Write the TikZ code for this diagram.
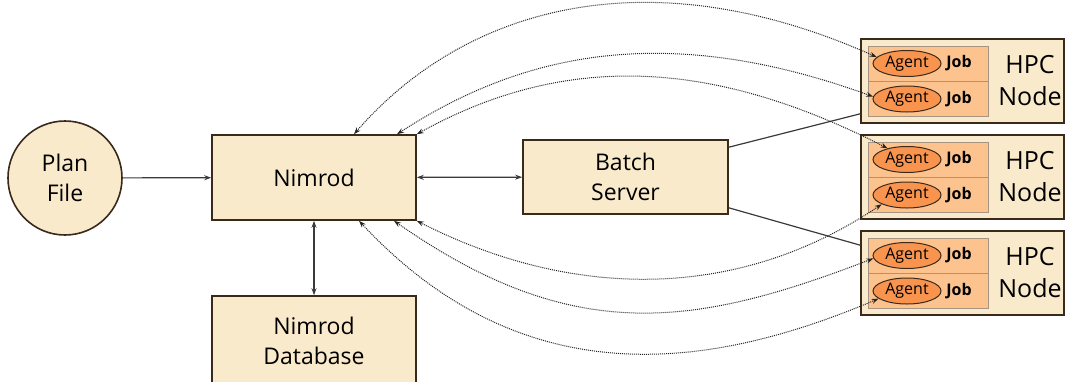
\documentclass[tikz,border=0pt]{standalone}
\usepackage{fontspec}
\setmainfont{Open Sans}
\usetikzlibrary{arrows.meta,shapes.geometric}

\definecolor{boxfill}{HTML}{FAEACC}
\definecolor{boxline}{HTML}{3A2A1C}
\definecolor{jobfill}{HTML}{FCC38F}
\definecolor{jobline}{HTML}{A89482}
\definecolor{agentfill}{HTML}{F8944E}
\definecolor{wire}{HTML}{3A3A3A}

\begin{document}
\begin{tikzpicture}[x=1pt, y=1pt, >={Stealth[length=7pt, width=5pt]},
  box/.style={draw=boxline, line width=1.6pt, fill=boxfill, inner sep=0pt,
    align=center, font=\fontsize{23}{30}\selectfont},
  jobrow/.style={draw=jobline, line width=0.8pt, fill=jobfill, inner sep=0pt,
    minimum width=120pt, minimum height=35pt},
  agentoval/.style={ellipse, draw=boxline, line width=1pt, fill=agentfill,
    inner sep=0pt, minimum width=68pt, minimum height=26pt,
    font=\fontsize{16}{18}\selectfont},
  joblabel/.style={inner sep=0pt, font=\fontsize{16}{18}\selectfont\bfseries},
  hpclabel/.style={inner sep=0pt, align=center, font=\fontsize{25}{32}\selectfont},
  link/.style={draw=wire, line width=1.2pt},
  msg/.style={draw=black!85, line width=1pt, densely dotted, <->}]

% page frame, in pixels of the reference (y downwards)
\useasboundingbox (0,0) rectangle (1066,-381);

% main blocks
\node[box, circle, minimum size=114pt] (plan) at (65,-178) {Plan\\File};
\node[box, minimum width=204pt, minimum height=85pt] (nimrod) at (314,-177.5) {Nimrod};
\node[box, minimum width=205pt, minimum height=74pt] (batch) at (625.5,-177) {Batch\\Server};
\node[box, minimum width=204pt, minimum height=89pt] (db) at (314,-340.5) {Nimrod\\Database};

% three HPC nodes, two agent/job rows each
\foreach \k/\cy in {1/81, 2/177, 3/273} {
  \node[box, minimum width=203pt, minimum height=84pt] (hpc\k) at (962.5,-\cy) {};
  \node[hpclabel] (hpctext\k) at (1030,-\cy) {HPC\\Node};
  \foreach \r/\off in {a/17.5, b/-18} {
    \pgfmathsetmacro{\ry}{\off-\cy}
    \node[jobrow] (row\k\r) at (928,\ry) {};
    \node[agentoval] (agent\k\r) at (907,\ry) {Agent};
    \node[joblabel] (job\k\r) at (959,\ry) {Job};
  }
}

% solid connectors
\draw[link, ->] (plan) -- (nimrod);
\draw[link, <->] (nimrod) -- (batch);
\draw[link, <->] (nimrod) -- (db);
\draw[link] ([yshift=-8pt]batch.north east) -- ([yshift=10pt]hpc1.south west);
\draw[link] ([yshift=7pt]batch.south east) -- ([yshift=-15pt]hpc3.north west);

% agent <-> nimrod messages
\draw[msg] ([xshift=40pt]nimrod.north) to[out=49, in=156, out distance=165pt, in distance=255pt] (agent1a.168);
\draw[msg] ([xshift=83pt]nimrod.north) to[out=33, in=160, out distance=150pt, in distance=220pt] (agent1b.176);
\draw[msg] (nimrod.north east) to[out=29, in=153, out distance=182pt, in distance=182pt] (agent2a.150);
\draw[msg] (nimrod.south east) to[out=-27, in=214, out distance=174pt, in distance=174pt] (agent2b.200);
\draw[msg] ([xshift=80pt]nimrod.south) to[out=-35, in=201, out distance=220pt, in distance=190pt] (agent3a.185);
\draw[msg] ([xshift=45pt]nimrod.south) to[out=-47, in=203, out distance=240pt, in distance=185pt] (agent3b.195);

\end{tikzpicture}
\end{document}
